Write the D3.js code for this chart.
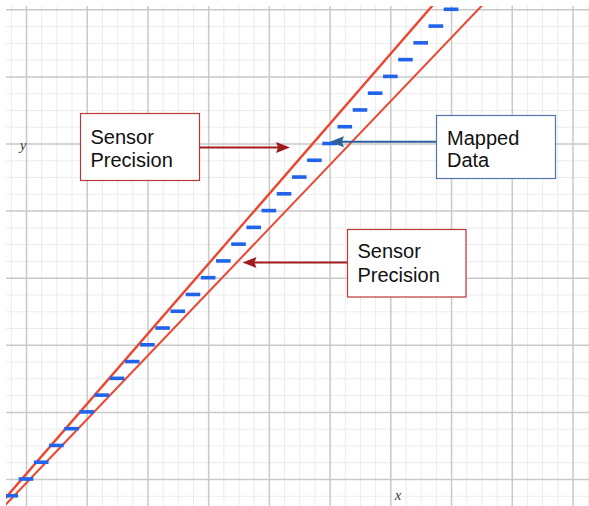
<!DOCTYPE html>
<html>
<head>
<meta charset="utf-8">
<script src="https://cdn.jsdelivr.net/npm/d3@7"></script>
<style>
  html, body { margin: 0; padding: 0; background: #ffffff; }
  svg { display: block; }
</style>
</head>
<body>
<div id="chart"></div>
<script>
// ---------------- data ----------------
// mapped sensor readings (blue dashes), in grid units (1 = one major cell)
const mappedX = [-0.25, 0, 0.25, 0.5, 0.75, 1, 1.25, 1.5, 1.75, 2, 2.25, 2.5, 2.75, 3, 3.25, 3.5,
                 3.75, 4, 4.25, 4.5, 4.75, 5, 5.25, 5.5, 5.75, 6, 6.25, 6.5, 6.75, 7];
const mappedY = [-0.25, 0, 0.25, 0.5, 0.75, 1, 1.25, 1.5, 1.75, 2, 2.25, 2.5, 2.75, 3, 3.25, 3.5,
                 3.75, 4, 4.25, 4.5, 4.75, 5, 5.25, 5.5, 5.75, 6, 6.25, 6.5, 6.75, 7];
// sensor precision bounds (red lines), endpoints
const upperX = [-0.5, 7.2];
const upperY = [-0.451, 7.584];
const lowerX = [-0.5, 8.0];
const lowerY = [-0.537, 7.521];
// grid
const majorTicksX = [0, 1, 2, 3, 4, 5, 6, 7, 8, 9];
const majorTicksY = [0, 1, 2, 3, 4, 5, 6, 7];
const axisLabels = ["x", "y"];
const annotationTexts = [["Sensor", "Precision"], ["Mapped", "Data"], ["Sensor", "Precision"]];

// ---------------- layout ----------------
const W = 589, H = 506;
const pL = 6, pT = 6, pR = 589, pB = 506;

const x = d3.scaleLinear().domain([(pL - 26) / 60.72, (pR - 26) / 60.72]).range([pL, pR]);
const y = d3.scaleLinear().domain([(479 - pB) / 67.1, (479 - pT) / 67.1]).range([pB, pT]);

const svg = d3.select("#chart").append("svg").attr("width", W).attr("height", H);
svg.append("rect").attr("width", W).attr("height", H).attr("fill", "#fff");

svg.append("defs").append("clipPath").attr("id", "plotclip")
  .append("rect").attr("x", pL).attr("y", pT).attr("width", pR - pL).attr("height", pB - pT);

const plot = svg.append("g").attr("clip-path", "url(#plotclip)");

// minor grid
const minorX = d3.range(-0.25, 9.3, 0.25).filter(v => Math.abs(v - Math.round(v)) > 1e-6);
const minorY = d3.range(-0.25, 7.1, 0.25).filter(v => Math.abs(v - Math.round(v)) > 1e-6);

function grid(g, axis) {
  g.call(axis);
  g.select(".domain").remove();
  g.selectAll("text").remove();
}
plot.append("g").attr("transform", `translate(0,${pB})`)
  .call(g => grid(g, d3.axisBottom(x).tickValues(minorX).tickSize(-(pB - pT)).tickFormat("")))
  .selectAll("line").attr("stroke", "#ececec").attr("stroke-width", 1);
plot.append("g").attr("transform", `translate(${pL},0)`)
  .call(g => grid(g, d3.axisLeft(y).tickValues(minorY).tickSize(-(pR - pL)).tickFormat("")))
  .selectAll("line").attr("stroke", "#ececec").attr("stroke-width", 1);
plot.append("g").attr("transform", `translate(0,${pB})`)
  .call(g => grid(g, d3.axisBottom(x).tickValues(majorTicksX).tickSize(-(pB - pT)).tickFormat("")))
  .selectAll("line").attr("stroke", "#c9c9c9").attr("stroke-width", 1.5);
plot.append("g").attr("transform", `translate(${pL},0)`)
  .call(g => grid(g, d3.axisLeft(y).tickValues(majorTicksY).tickSize(-(pR - pL)).tickFormat("")))
  .selectAll("line").attr("stroke", "#c9c9c9").attr("stroke-width", 1.5);

// axis labels
svg.append("text").attr("x", 398).attr("y", 500)
  .attr("font-family", "'Liberation Serif', 'DejaVu Serif', serif").attr("font-style", "italic")
  .attr("font-size", 15).attr("fill", "#444").attr("text-anchor", "middle").text(axisLabels[0]);
svg.append("text").attr("x", 23).attr("y", 150)
  .attr("font-family", "'Liberation Serif', 'DejaVu Serif', serif").attr("font-style", "italic")
  .attr("font-size", 15).attr("fill", "#444").attr("text-anchor", "middle").text(axisLabels[1]);

// red bounds
const line = d3.line().x(d => x(d[0])).y(d => y(d[1]));
plot.append("path").datum(d3.zip(upperX, upperY)).attr("d", line)
  .attr("fill", "none").attr("stroke", "#ea4630").attr("stroke-width", 2.4);
plot.append("path").datum(d3.zip(lowerX, lowerY)).attr("d", line)
  .attr("fill", "none").attr("stroke", "#ea4630").attr("stroke-width", 2);

// blue dashes
plot.selectAll("rect.dash").data(d3.zip(mappedX, mappedY)).join("rect")
  .attr("class", "dash")
  .attr("x", d => x(d[0]) - 7.3).attr("y", d => y(d[1]) - 1.8)
  .attr("width", 14.6).attr("height", 3.6)
  .attr("fill", "#2163ea");

// annotations
const FONT = "'Liberation Sans', Arial, Helvetica, sans-serif";
function box(x0, y0, x1, y1, stroke, lines, tx, ty1, ty2) {
  svg.append("rect").attr("x", x0).attr("y", y0).attr("width", x1 - x0).attr("height", y1 - y0)
    .attr("fill", "#fff").attr("stroke", stroke).attr("stroke-width", 1.2);
  svg.append("text").attr("x", tx).attr("y", ty1).attr("font-family", FONT).attr("font-size", 20)
    .attr("fill", "#111").text(lines[0]);
  svg.append("text").attr("x", tx).attr("y", ty2).attr("font-family", FONT).attr("font-size", 20)
    .attr("fill", "#111").text(lines[1]);
}
function arrow(x0, x1, yy, color, headLen, headHalf) {
  const dir = Math.sign(x1 - x0);
  svg.append("line").attr("x1", x0).attr("y1", yy).attr("x2", x1 - dir * headLen * 0.8).attr("y2", yy)
    .attr("stroke", color).attr("stroke-width", 2);
  svg.append("path")
    .attr("d", `M${x1},${yy} L${x1 - dir * headLen},${yy - headHalf} L${x1 - dir * headLen * 0.85},${yy} L${x1 - dir * headLen},${yy + headHalf} Z`)
    .attr("fill", color);
}

// Sensor Precision (upper-left)
arrow(199.5, 290, 147.5, "#a11a1e", 14, 5.5);
box(80.5, 113.5, 199.5, 180.5, "#b53a3a", annotationTexts[0], 90.5, 143.5, 166.5);

// Mapped Data
arrow(436.5, 330, 141.8, "#2f5e9c", 14, 5.5);
box(436.5, 115.5, 555.5, 178.5, "#5576ad", annotationTexts[1], 447, 145, 167);

// Sensor Precision (lower-right)
arrow(347.5, 242.5, 262.5, "#a11a1e", 14, 5.5);
box(347.5, 229.5, 466, 297, "#b53a3a", annotationTexts[2], 357.5, 257.5, 281.5);
</script>
</body>
</html>
